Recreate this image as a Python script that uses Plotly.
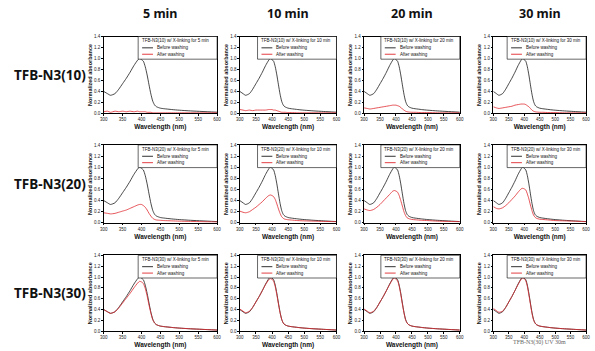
import plotly.graph_objects as go
from plotly.subplots import make_subplots

# ---------------- data ----------------
wavelength = [300, 310, 318, 330, 340, 350, 360, 370, 380, 390, 395, 400, 405, 410, 415,
              420, 425, 430, 435, 440, 450, 460, 480, 500, 530, 560, 600]

before_washing = [0.40, 0.36, 0.33, 0.36, 0.44, 0.54, 0.64, 0.75, 0.87, 0.97, 1.00, 0.98, 0.95, 0.85, 0.70,
                  0.52, 0.35, 0.22, 0.15, 0.12, 0.095, 0.085, 0.07, 0.058, 0.045, 0.035, 0.022]

# after washing, TFB-N3(10)
after_10_5 = [0.03, 0.04, 0.02, 0.04, 0.03, 0.04, 0.03, 0.04, 0.03, 0.04, 0.03, 0.03, 0.03, 0.03, 0.02,
              0.02, 0.02, 0.01, 0.01, 0.01, 0.01, 0.01, 0.01, 0.01, 0.01, 0.01, 0.01]
after_10_10 = [0.07, 0.06, 0.05, 0.06, 0.05, 0.06, 0.06, 0.06, 0.06, 0.07, 0.07, 0.07, 0.06, 0.06, 0.05,
               0.04, 0.03, 0.02, 0.02, 0.02, 0.015, 0.015, 0.01, 0.01, 0.01, 0.01, 0.01]
after_10_20 = [0.10, 0.09, 0.08, 0.09, 0.10, 0.11, 0.12, 0.13, 0.14, 0.15, 0.15, 0.15, 0.14, 0.13, 0.11,
               0.08, 0.06, 0.04, 0.03, 0.025, 0.02, 0.02, 0.015, 0.015, 0.01, 0.01, 0.01]
after_10_30 = [0.12, 0.10, 0.09, 0.10, 0.11, 0.12, 0.13, 0.15, 0.16, 0.17, 0.17, 0.17, 0.16, 0.14, 0.12,
               0.09, 0.06, 0.04, 0.03, 0.025, 0.02, 0.02, 0.015, 0.015, 0.01, 0.01, 0.01]
# after washing, TFB-N3(20)
after_20_5 = [0.18, 0.17, 0.16, 0.17, 0.19, 0.21, 0.23, 0.26, 0.29, 0.32, 0.33, 0.33, 0.31, 0.28, 0.23,
              0.17, 0.12, 0.08, 0.06, 0.05, 0.045, 0.04, 0.035, 0.03, 0.025, 0.02, 0.015]
after_20_10 = [0.21, 0.19, 0.18, 0.20, 0.24, 0.28, 0.33, 0.38, 0.44, 0.49, 0.50, 0.49, 0.47, 0.42, 0.34,
               0.25, 0.17, 0.11, 0.08, 0.065, 0.055, 0.05, 0.04, 0.035, 0.03, 0.025, 0.02]
after_20_20 = [0.25, 0.23, 0.22, 0.24, 0.28, 0.33, 0.39, 0.45, 0.51, 0.57, 0.58, 0.57, 0.55, 0.49, 0.40,
               0.30, 0.20, 0.13, 0.09, 0.075, 0.06, 0.055, 0.045, 0.04, 0.03, 0.025, 0.02]
after_20_30 = [0.29, 0.26, 0.25, 0.27, 0.31, 0.36, 0.42, 0.48, 0.55, 0.61, 0.62, 0.61, 0.59, 0.52, 0.43,
               0.32, 0.22, 0.14, 0.10, 0.08, 0.065, 0.06, 0.05, 0.04, 0.035, 0.03, 0.02]
# after washing, TFB-N3(30)
after_30_5 = [0.40, 0.36, 0.33, 0.36, 0.43, 0.52, 0.61, 0.70, 0.80, 0.89, 0.92, 0.91, 0.88, 0.79, 0.65,
              0.48, 0.33, 0.21, 0.15, 0.12, 0.095, 0.085, 0.07, 0.058, 0.045, 0.035, 0.022]
after_30_10 = [0.41, 0.37, 0.34, 0.37, 0.44, 0.54, 0.64, 0.75, 0.86, 0.95, 0.97, 0.96, 0.92, 0.82, 0.67,
               0.50, 0.34, 0.22, 0.15, 0.12, 0.095, 0.085, 0.07, 0.058, 0.045, 0.035, 0.022]
after_30_20 = [0.41, 0.37, 0.34, 0.37, 0.44, 0.54, 0.64, 0.75, 0.86, 0.96, 0.98, 0.96, 0.93, 0.83, 0.68,
               0.50, 0.34, 0.21, 0.15, 0.12, 0.095, 0.085, 0.07, 0.058, 0.045, 0.035, 0.022]
after_30_30 = [0.42, 0.38, 0.35, 0.37, 0.44, 0.54, 0.64, 0.75, 0.86, 0.96, 0.98, 0.97, 0.93, 0.83, 0.67,
               0.50, 0.33, 0.21, 0.15, 0.12, 0.095, 0.085, 0.07, 0.058, 0.045, 0.035, 0.022]

samples = ["TFB-N3(10)", "TFB-N3(20)", "TFB-N3(30)"]
times = ["5 min", "10 min", "20 min", "30 min"]
after = [[after_10_5, after_10_10, after_10_20, after_10_30],
         [after_20_5, after_20_10, after_20_20, after_20_30],
         [after_30_5, after_30_10, after_30_20, after_30_30]]
x_ticks = [300, 350, 400, 450, 500, 550, 600]
y_ticks = [0.0, 0.2, 0.4, 0.6, 0.8, 1.0, 1.2, 1.4]

# ---------------- layout geometry (pixels) ----------------
W, H = 595, 351
col_px = [(101, 216), (239, 337), (365, 462), (496, 590)]
row_px = [(35, 113), (145, 224), (257, 334)]

BLACK = "#1a1a1a"
RED = "#e0282e"
FONT = "Liberation Sans"

fig = make_subplots(rows=3, cols=4)

for r in range(3):
    for c in range(4):
        n = r * 4 + c + 1
        fig.add_trace(go.Scatter(x=wavelength, y=before_washing, mode="lines",
                                 line=dict(color=BLACK, width=0.8, shape="spline", smoothing=0.6),
                                 showlegend=False, hoverinfo="skip"), row=r + 1, col=c + 1)
        fig.add_trace(go.Scatter(x=wavelength, y=after[r][c], mode="lines",
                                 line=dict(color=RED, width=0.8, shape="spline", smoothing=0.6),
                                 showlegend=False, hoverinfo="skip"), row=r + 1, col=c + 1)

        xa = "xaxis" if n == 1 else f"xaxis{n}"
        ya = "yaxis" if n == 1 else f"yaxis{n}"
        x0p, x1p = col_px[c]
        t0p, t1p = row_px[r]
        last = (r == 2 and c == 3)
        fig.layout[xa].update(
            domain=[x0p / W, x1p / W], range=[300, 600], tickvals=x_ticks,
            showline=True, mirror=True, linecolor="black", linewidth=0.8,
            ticks="outside", ticklen=1.5, tickwidth=0.6, tickcolor="black",
            tickfont=dict(size=4.5, family=FONT, color="#222"),
            showgrid=False, zeroline=False,
            title=dict(text="" if last else "Wavelength (nm)", standoff=3,
                       font=dict(size=6.5, family=FONT, color="#111", weight="bold")))
        fig.layout[ya].update(
            domain=[1 - t1p / H, 1 - t0p / H], range=[0, 1.4], tickvals=y_ticks,
            tickformat=".1f",
            showline=True, mirror=True, linecolor="black", linewidth=0.8,
            ticks="outside", ticklen=1.5, tickwidth=0.6, tickcolor="black",
            tickfont=dict(size=4.5, family=FONT, color="#222"),
            showgrid=False, zeroline=False,
            title=dict(text="Normalized absorbance", standoff=1,
                       font=dict(size=5.5, family=FONT, color="#111", weight="bold")))

        # legend box drawn inside each panel
        pw = x1p - x0p
        ph = t1p - t0p
        xd = "x domain" if n == 1 else f"x{n} domain"
        yd = "y domain" if n == 1 else f"y{n} domain"
        bl = 1 - 80 / pw
        fig.add_shape(type="rect", xref=xd, yref=yd, x0=bl, x1=1, y0=1 - 23 / ph, y1=1,
                      line=dict(color="black", width=0.6), fillcolor="white")
        fig.add_annotation(xref=xd, yref=yd, x=bl + 1.5 / pw, y=1 - 4.5 / ph,
                           text=f"{samples[r]} w/ X-linking for {times[c]}",
                           showarrow=False, xanchor="left", yanchor="middle",
                           font=dict(size=4.5, family=FONT, color="#111"))
        for k, (lab, col) in enumerate([("Before washing", BLACK), ("After washing", RED)]):
            yy = 1 - (11.5 + 6.5 * k) / ph
            fig.add_shape(type="line", xref=xd, yref=yd, x0=bl + 4 / pw, x1=bl + 15 / pw,
                          y0=yy, y1=yy, line=dict(color=col, width=0.9))
            fig.add_annotation(xref=xd, yref=yd, x=bl + 17 / pw, y=yy, text=lab,
                               showarrow=False, xanchor="left", yanchor="middle",
                               font=dict(size=4.5, family=FONT, color="#111"))

# column headers
for c, t in enumerate(times):
    cx = (col_px[c][0] + col_px[c][1]) / 2 / W
    fig.add_annotation(xref="paper", yref="paper", x=cx, y=1 - 12 / H, text=t,
                       showarrow=False, xanchor="center", yanchor="middle",
                       font=dict(size=12.5, family="Noto Sans", color="#111", weight="bold"))
# row headers
for r, s in enumerate(samples):
    cy = 1 - ((row_px[r][0] + row_px[r][1]) / 2) / H
    fig.add_annotation(xref="paper", yref="paper", x=47 / W, y=cy, text=s,
                       showarrow=False, xanchor="center", yanchor="middle",
                       font=dict(size=13.5, family="Noto Sans", color="#111", weight="bold"))

# caption under last panel
fig.add_annotation(xref="paper", yref="paper", x=(col_px[3][0] + col_px[3][1]) / 2 / W,
                   y=1 - 345 / H, text="TFB-N3(30) UV 30m", showarrow=False,
                   xanchor="center", yanchor="middle",
                   font=dict(size=6, family="Liberation Serif", color="#666"))

fig.update_layout(width=W, height=H, margin=dict(l=0, r=0, t=0, b=0),
                  paper_bgcolor="white", plot_bgcolor="white", showlegend=False)

fig.write_html("out.html")
